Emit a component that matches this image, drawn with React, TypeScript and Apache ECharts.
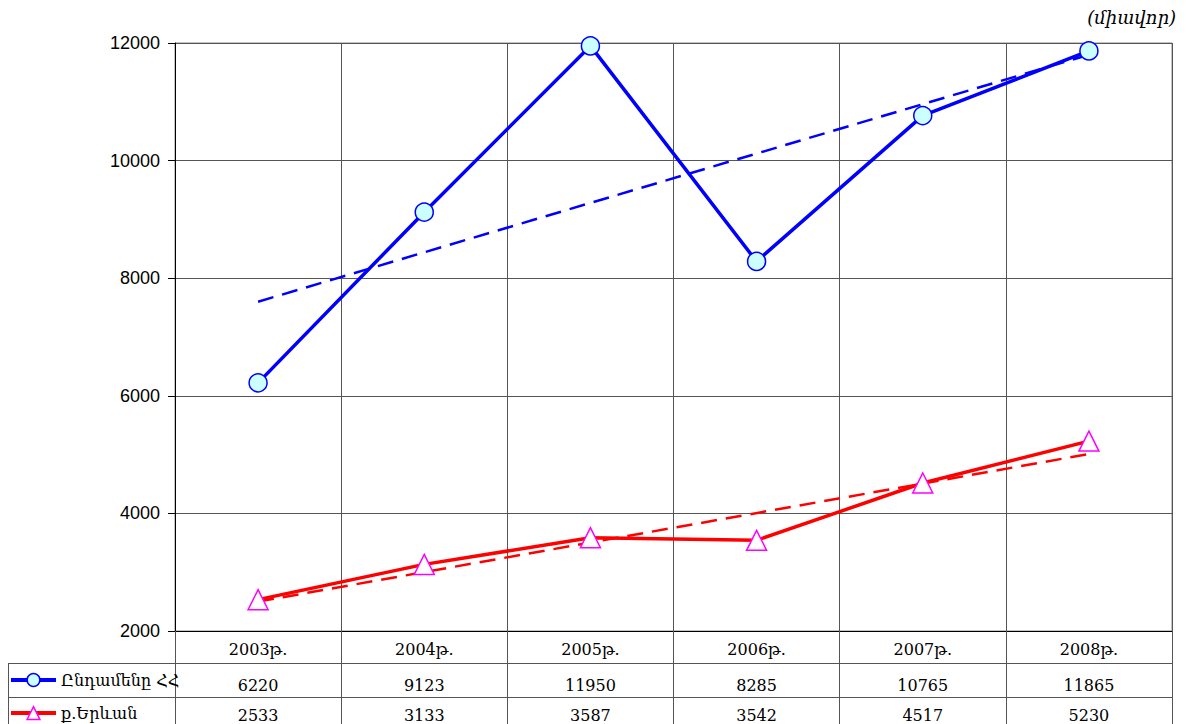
import React, { useEffect, useRef } from "react";
import * as echarts from "echarts";

const years = ["2003թ.", "2004թ.", "2005թ.", "2006թ.", "2007թ.", "2008թ."];
const totalName = "Ընդամենը ՀՀ";
const yerevanName = "ք.Երևան";
const totalValues = [6220, 9123, 11950, 8285, 10765, 11865];
const yerevanValues = [2533, 3133, 3587, 3542, 4517, 5230];
// linear trend lines (start, end)
const totalTrend = [[0, 7600], [5, 11800]];
const yerevanTrend = [[0, 2500], [5, 5010]];
const yTicks = { min: 2000, max: 12000, interval: 2000 };
const unitLabel = "(միավոր)";

const serif = "'DejaVu Serif', 'Liberation Serif', serif";
const sans = "'Liberation Sans', Arial, sans-serif";

const BLUE = "#0000FF";
const RED = "#FF0000";

export default function App() {
  const ref = useRef<HTMLDivElement>(null);
  useEffect(() => {
    if (!ref.current) return;
    const chart = echarts.init(ref.current, null, { renderer: "svg" });
    const gridLine = { color: "#555", width: 1 };
    const tableAxis = (data: string[], offset: number, margin: number, tickLen: number) => ({
      type: "category",
      data,
      position: "bottom",
      offset,
      boundaryGap: true,
      gridIndex: 0,
      axisLine: { show: true, lineStyle: { color: "#555", width: 1 } },
      axisTick: { show: true, length: tickLen, lineStyle: { color: "#555", width: 1 } },
      axisLabel: { margin, color: "#000", fontFamily: serif, fontSize: 16 },
      splitLine: { show: false },
    });
    const legendBase = {
      orient: "vertical",
      left: 9,
      padding: 0,
      itemWidth: 45,
      itemHeight: 16,
      itemGap: 0,
      lineStyle: { width: 4 },
      textStyle: { fontFamily: serif, fontSize: 16, color: "#000" },
    };
    chart.setOption({
      animation: false,
      backgroundColor: "#fff",
      grid: { left: 175, right: 14, top: 43, bottom: 93, show: true, borderColor: "#888", borderWidth: 1 },
      legend: [
        {
          ...legendBase,
          top: 672,
          data: [{ name: totalName, itemStyle: { color: "#CCFFFF", borderColor: BLUE, borderWidth: 1.5 } }],
        },
        {
          ...legendBase,
          top: 705,
          data: [{ name: yerevanName, itemStyle: { color: "#FFFFFF", borderColor: "#FF00FF", borderWidth: 1.5 } }],
        },
      ],
      xAxis: [
        {
          type: "category",
          data: years,
          boundaryGap: true,
          axisLine: { show: true, lineStyle: { color: "#000", width: 1 } },
          axisTick: { show: true, length: 32, lineStyle: { color: "#555" } },
          axisLabel: { margin: 10, color: "#000", fontFamily: serif, fontSize: 16 },
          splitLine: { show: true, lineStyle: gridLine },
        },
        tableAxis(totalValues.map(String), 32, 14, 34),
        tableAxis(yerevanValues.map(String), 66, 10, 30),
      ],
      yAxis: {
        type: "value",
        min: yTicks.min,
        max: yTicks.max,
        interval: yTicks.interval,
        axisLine: { show: true, lineStyle: { color: "#000" } },
        axisTick: { show: true, length: 7, lineStyle: { color: "#000" } },
        axisLabel: { margin: 15, color: "#000", fontFamily: sans, fontSize: 18, formatter: (v: number) => String(v) },
        splitLine: { show: true, lineStyle: gridLine },
      },
      graphic: [
        { type: "line", shape: { x1: 8, y1: 663.5, x2: 175, y2: 663.5 }, style: { stroke: "#555", lineWidth: 1 } },
        { type: "line", shape: { x1: 8, y1: 697.5, x2: 175, y2: 697.5 }, style: { stroke: "#555", lineWidth: 1 } },
        { type: "line", shape: { x1: 8.5, y1: 663, x2: 8.5, y2: 724 }, style: { stroke: "#555", lineWidth: 1 } },
        {
          type: "text",
          right: 10,
          top: 8,
          style: { text: unitLabel, fontFamily: serif, fontStyle: "italic", fontSize: 18, fill: "#000" },
        },
      ],
      series: [
        {
          name: totalName,
          type: "line",
          data: totalValues,
          symbol: "circle",
          symbolSize: 18,
          lineStyle: { color: BLUE, width: 3.5 },
          itemStyle: { color: "#CCFFFF", borderColor: BLUE, borderWidth: 1.5 },
          z: 3,
        },
        {
          name: yerevanName,
          type: "line",
          data: yerevanValues,
          symbol: "triangle",
          symbolSize: 20,
          lineStyle: { color: RED, width: 3.5 },
          itemStyle: { color: "#FFFFFF", borderColor: "#FF00FF", borderWidth: 1.5 },
          z: 3,
        },
        {
          name: "trend1",
          type: "line",
          data: totalTrend,
          symbol: "none",
          lineStyle: { color: BLUE, width: 2.5, type: [16, 9] },
          z: 2,
        },
        {
          name: "trend2",
          type: "line",
          data: yerevanTrend,
          symbol: "none",
          lineStyle: { color: RED, width: 2.5, type: [16, 9] },
          z: 2,
        },
      ],
    });
    return () => chart.dispose();
  }, []);
  return <div ref={ref} style={{ position: "fixed", left: 0, top: 0, width: 1186, height: 724 }} />;
}
